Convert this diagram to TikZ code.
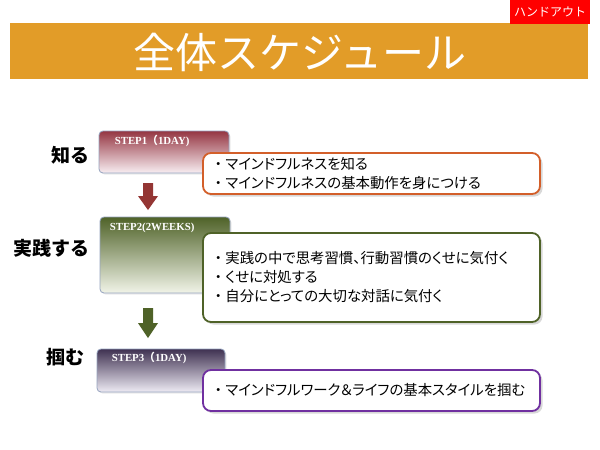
\documentclass[tikz,border=0pt]{standalone}
\usepackage{fontspec}
\setmainfont{Liberation Serif}
\newfontfamily\jp{Noto Sans CJK JP}
\newfontfamily\jpp[RawFeature=+palt]{Noto Sans CJK JP}
\newcommand\bul{{\jp ・}}
\usetikzlibrary{shadows}
\definecolor{titlebar}{HTML}{E29C28}
\definecolor{handred}{HTML}{FF0000}
\definecolor{redA}{HTML}{953642}
\definecolor{redB}{HTML}{F8EEF2}
\definecolor{greenA}{HTML}{4F6228}
\definecolor{greenB}{HTML}{F1F4E8}
\definecolor{purpA}{HTML}{3F3151}
\definecolor{purpB}{HTML}{EEEBF4}
\definecolor{stepborder}{HTML}{95A3BF}
\definecolor{orangeline}{HTML}{D35F2A}
\definecolor{purpline}{HTML}{7030A0}
\definecolor{arrowred}{HTML}{943634}
\tikzset{
  stepbox/.style={draw=stepborder, line width=0.8pt, rounded corners=4pt, minimum width=130pt, inner sep=0pt,
    drop shadow={opacity=0.15, shadow xshift=1.5pt, shadow yshift=-1.5pt}},
  steptext/.style={text=white, font=\fontsize{10.8}{12}\selectfont\bfseries, anchor=west, inner sep=0pt},
  callout/.style={fill=white, line width=1.8pt, rounded corners=8pt, text width=321pt, inner xsep=8pt, inner ysep=0pt,
    align=left, font=\jpp\fontsize{14.4}{19}\selectfont,
    drop shadow={opacity=0.3, shadow xshift=2.5pt, shadow yshift=-2.5pt}},
  phase/.style={font=\jp\bfseries\fontsize{19}{22}\selectfont, anchor=east, inner sep=0pt},
}
\begin{document}
\begin{tikzpicture}[x=1pt,y=-1pt]
\useasboundingbox (0,0) rectangle (600,450);
\fill[white] (0,0) rectangle (600,450);
% title bar
\node[fill=titlebar, minimum width=578pt, minimum height=56pt, inner sep=0pt] (bar) at (299,51) {};
\node[text=white, font=\jp\fontsize{42}{46}\selectfont, inner sep=0pt] (title) at (300,52) {全体スケジュール};
\node[fill=handred, minimum width=80pt, minimum height=24pt, inner sep=0pt, text=white, font=\jp\fontsize{12}{14}\selectfont] (hand) at (550,12) {ハンドアウト};
% phase labels
\node[phase] (l1) at (90,155) {知る};
\node[phase] (l2) at (90,248) {実践する};
\node[phase] (l3) at (85,357) {掴む};
% step boxes
\node[stepbox, top color=redA, bottom color=redB, minimum height=42pt] (s1) at (164,152) {};
\node[steptext] (t1) at ([xshift=16pt,yshift=-10pt]s1.north west) {STEP1{\jp（}1DAY)};
\node[stepbox, top color=greenA, bottom color=greenB, minimum height=76pt] (s2) at (165,255) {};
\node[steptext] (t2) at ([xshift=10pt,yshift=-11pt]s2.north west) {STEP2(2WEEKS)};
\node[stepbox, top color=purpA, bottom color=purpB, minimum width=128pt, minimum height=43pt] (s3) at (161,370.5) {};
\node[steptext] (t3) at ([xshift=15pt,yshift=-9pt]s3.north west) {STEP3{\jp（}1DAY)};
% callouts
\node[callout, draw=orangeline, minimum height=41pt] (c1) at (371.5,173.5) {\bul マインドフルネスを知る\\\bul マインドフルネスの基本動作を身につける};
\node[callout, draw=greenA, minimum height=89pt] (c2) at (371.5,277.5) {\bul 実践の中で思考習慣、行動習慣のくせに気付く\\\bul くせに対処する\\\bul 自分にとっての大切な対話に気付く};
\node[callout, draw=purpline, minimum height=41pt] (c3) at (371.5,390.5) {\bul マインドフルワーク＆ライフの基本スタイルを掴む};
% block arrows
\fill[arrowred] (143,183) -- (153,183) -- (153,196) -- (158,196) -- (148,210) -- (138,196) -- (143,196) -- cycle;
\fill[greenA] (143,308) -- (153,308) -- (153,323) -- (158,323) -- (148,338) -- (138,323) -- (143,323) -- cycle;
\end{tikzpicture}
\end{document}
